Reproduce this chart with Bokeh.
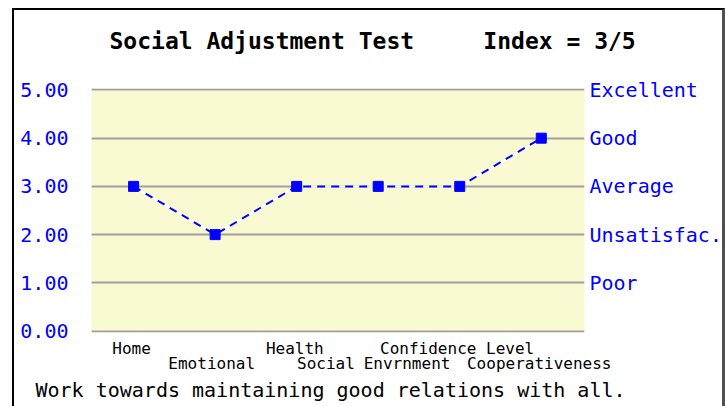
from bokeh.plotting import figure
from bokeh.models import (Range1d, LinearAxis, FixedTicker, Title,
                          NumeralTickFormatter, Grid)
from bokeh.embed import file_html
from bokeh.resources import INLINE

# ---- data ----
point_index = [1, 2, 3, 4, 5, 6]
scores = [3, 2, 3, 3, 3, 4]
row1_labels = ["Home", "Health", "Confidence Level"]
row2_labels = ["Emotional", "Social", "Envrnment", "Cooperativeness"]
y_ticks = [0, 1, 2, 3, 4, 5]
rating_ticks = [5, 4, 3, 2, 1]
rating_labels = ["Excellent", "Good", "Average", "Unsatisfac.", "Poor"]
title_text = "Social Adjustment Test" + "\u00a0" * 5 + "Index = 3/5"
footer_text = "Work towards maintaining good relations with all."

# layout positions of the staggered category labels (in x-axis units)
row1_pos = [0.975, 2.978, 4.968]
row2_pos = [1.958, 3.359, 4.354, 5.975]

MONO = "DejaVu Sans Mono"
BLUE = "#0000FF"

p = figure(width=713, height=398, x_range=Range1d(0.484, 6.53), y_range=Range1d(-0.03, 5.03),
           output_backend="svg", toolbar_location=None, title=None,
           x_axis_location=None, y_axis_location=None,
           min_border_left=77, min_border_right=143, min_border_top=78, min_border_bottom=76)
p.styles = {"margin-left": "12px", "margin-top": "8px",
            "border-left": "2px solid black", "border-top": "2px solid black",
            "border-right": "3px solid #505050"}
p.background_fill_color = "#FAFAD2"
p.border_fill_color = "white"
p.outline_line_color = None
p.center = [r for r in p.center if not isinstance(r, Grid)]

# left axis
la = LinearAxis(ticker=FixedTicker(ticks=y_ticks), formatter=NumeralTickFormatter(format="0.00"))
la.axis_line_color = None
la.major_tick_line_color = None
la.minor_tick_line_color = None
la.major_tick_out = 0
la.major_label_standoff = 23
la.major_label_text_font = MONO
la.major_label_text_font_size = "20px"
la.major_label_text_color = BLUE
p.add_layout(la, "left")

# right axis
ra = LinearAxis(ticker=FixedTicker(ticks=rating_ticks),
                major_label_overrides={t: s for t, s in zip(rating_ticks, rating_labels)})
ra.axis_line_color = None
ra.major_tick_line_color = None
ra.minor_tick_line_color = None
ra.major_tick_out = 0
ra.major_label_standoff = 5
ra.major_label_text_font = MONO
ra.major_label_text_font_size = "20px"
ra.major_label_text_color = BLUE
p.add_layout(ra, "right")

# bottom axes (two staggered rows)
for pos, labs, standoff in [(row1_pos, row1_labels, 6), (row2_pos, row2_labels, -7)]:
    ax = LinearAxis(ticker=FixedTicker(ticks=pos),
                    major_label_overrides={t: s for t, s in zip(pos, labs)})
    ax.axis_line_color = None
    ax.major_tick_line_color = None
    ax.minor_tick_line_color = None
    ax.major_tick_out = 0
    ax.major_label_standoff = standoff
    ax.major_label_text_font = MONO
    ax.major_label_text_font_size = "16px"
    ax.major_label_text_color = "black"
    p.add_layout(ax, "below")

# horizontal grid
g = Grid(dimension=1, ticker=FixedTicker(ticks=y_ticks))
g.grid_line_color = "#A0A0A0"
g.grid_line_width = 2
p.add_layout(g)

# series
p.line(point_index, scores, line_color="white", line_width=2)
p.line(point_index, scores, line_color=BLUE, line_width=2, line_dash="8 6")
p.scatter(point_index, scores, marker="square", size=10, fill_color=BLUE, line_color=BLUE)

# title (with an invisible spacer panel between it and the plot area) / footer
p.add_layout(Title(text="\u00a0", text_font_size="1px", standoff=22), "above")
p.add_layout(Title(text=title_text, align="left", offset=18, standoff=20,
                   text_font=MONO, text_font_style="bold", text_font_size="23px",
                   text_color="black"), "above")
p.add_layout(Title(text=footer_text, align="left", offset=-56, standoff=0,
                   text_font=MONO, text_font_style="normal", text_font_size="20px",
                   text_color="black"), "below")

open("out.html", "w").write(file_html(p, INLINE))
